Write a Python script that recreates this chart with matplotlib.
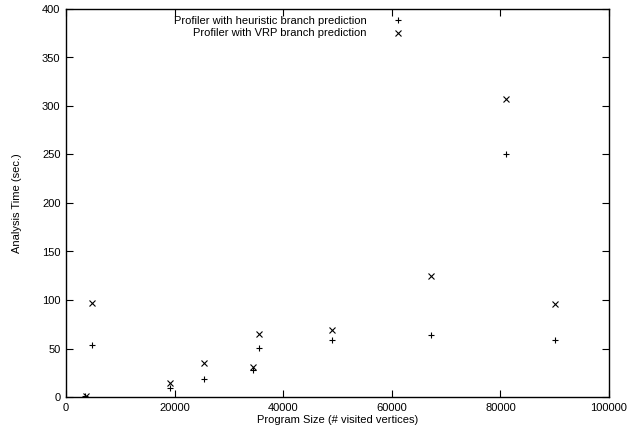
import numpy as np
import matplotlib
matplotlib.use("Agg")
import matplotlib.pyplot as plt

plt.rcParams['font.family'] = ['Liberation Sans', 'DejaVu Sans']

# Program size (# visited vertices) and analysis time (sec.)
size_heur = [3500, 4850, 19150, 25400, 34500, 35550, 48900, 67150, 81030, 90000]
time_heur = [1, 53.5, 9, 19, 28, 51, 59, 64, 250.5, 58.5]

size_vrp = [3680, 4850, 19150, 25400, 34500, 35550, 48900, 67150, 81030, 90000]
time_vrp = [1.5, 97, 14, 35.5, 31, 65, 69, 125, 307, 96]

x_ticks = [0, 20000, 40000, 60000, 80000, 100000]
y_ticks = [0, 50, 100, 150, 200, 250, 300, 350, 400]

fig = plt.figure(figsize=(6.44, 4.36), dpi=100)
ax = fig.add_axes([66 / 644, 39 / 436, 543 / 644, 388 / 436])

ax.plot(size_heur, time_heur, linestyle='none', marker='+', color='black',
        markersize=5, markeredgewidth=0.8,
        label='Profiler with heuristic branch prediction')
ax.plot(size_vrp, time_vrp, linestyle='none', marker='x', color='black',
        markersize=4.5, markeredgewidth=0.8,
        label='Profiler with VRP branch prediction')

ax.set_xlim(0, 100000)
ax.set_ylim(0, 400)
ax.set_xticks(x_ticks)
ax.set_yticks(y_ticks)
ax.tick_params(direction='in', top=True, right=True, length=5, width=0.8,
               labelsize=8, pad=4)
for s in ax.spines.values():
    s.set_linewidth(1.0)

ax.set_xlabel('Program Size (# visited vertices)', fontsize=8, labelpad=2)
ax.set_ylabel('Analysis Time (sec.)', fontsize=8, labelpad=14)

ax.legend(loc='upper right', bbox_to_anchor=(0.643, 0.982),
          bbox_transform=fig.transFigure, frameon=False, markerfirst=False,
          fontsize=8, handlelength=1.5, handletextpad=2.1, labelspacing=0.25,
          borderpad=0.2)

fig.savefig('out.png', dpi=100)
